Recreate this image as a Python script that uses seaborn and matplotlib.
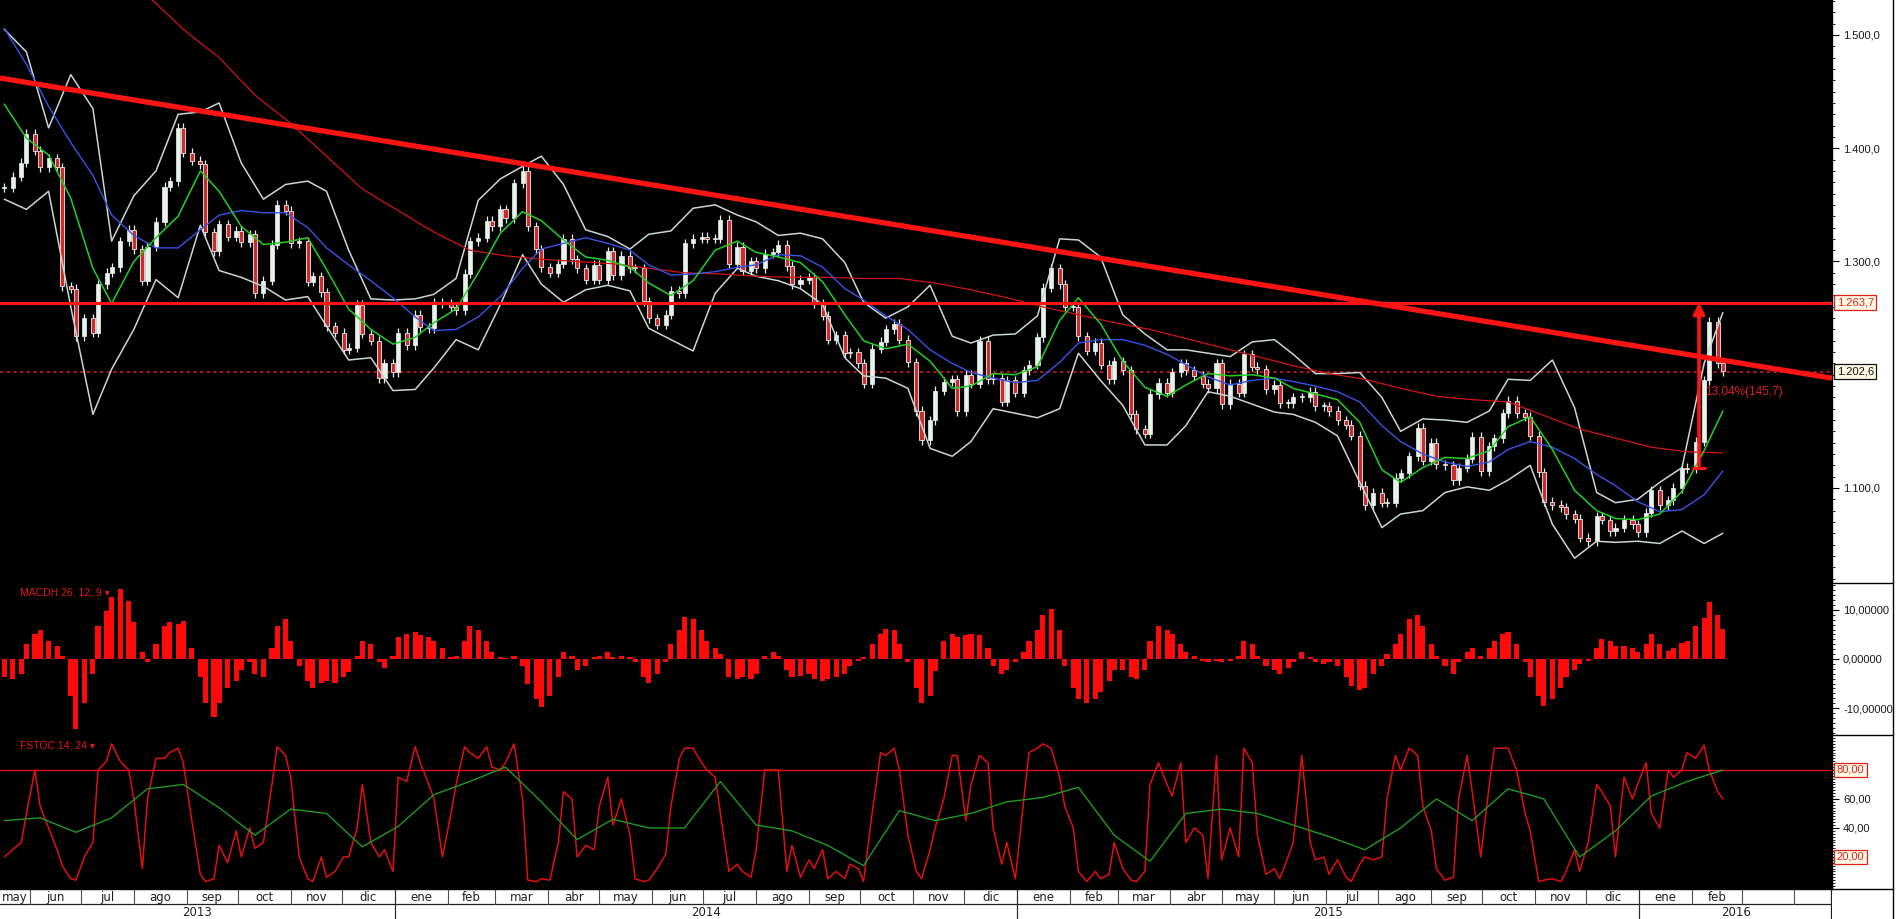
import numpy as np
import pandas as pd
import matplotlib
matplotlib.use("Agg")
import matplotlib.pyplot as plt
import matplotlib.dates as mdates
from matplotlib.lines import Line2D
import seaborn as sns

# ---------------- data ----------------
start_date = "2013-05-17"          # first bar, one bar every 3 business days
close = [
    1365, 1375, 1387, 1413, 1398, 1383, 1391, 1383, 1278, 1276,
    1234, 1250, 1237, 1280, 1290, 1295, 1318, 1328, 1311, 1283,
    1313, 1335, 1366, 1371, 1418, 1396, 1389, 1386, 1326, 1309,
    1333, 1322, 1327, 1317, 1324, 1272, 1283, 1315, 1350, 1345,
    1316, 1318, 1282, 1287, 1273, 1243, 1237, 1222, 1224, 1262,
    1236, 1230, 1197, 1210, 1202, 1237, 1226, 1253, 1242, 1241,
    1264, 1263, 1260, 1257, 1289, 1318, 1321, 1336, 1331, 1346,
    1338, 1369, 1380, 1331, 1311, 1295, 1290, 1298, 1320, 1302,
    1294, 1284, 1297, 1284, 1309, 1288, 1305, 1294, 1294, 1265,
    1250, 1244, 1253, 1274, 1272, 1316, 1320, 1322, 1320, 1320,
    1337, 1298, 1313, 1292, 1300, 1294, 1307, 1308, 1315, 1296,
    1280, 1284, 1286, 1263, 1252, 1231, 1235, 1219, 1220, 1210,
    1192, 1223, 1229, 1240, 1245, 1231, 1211, 1168, 1142, 1160,
    1186, 1194, 1196, 1168, 1200, 1192, 1230, 1196, 1197, 1176,
    1195, 1184, 1204, 1209, 1233, 1277, 1294, 1280, 1260, 1260,
    1234, 1221, 1228, 1209, 1196, 1212, 1204, 1165, 1152, 1148,
    1183, 1193, 1184, 1202, 1210, 1204, 1199, 1192, 1188, 1210,
    1174, 1192, 1184, 1218, 1207, 1205, 1187, 1191, 1175, 1175,
    1180, 1180, 1185, 1172, 1172, 1168, 1160, 1156, 1146, 1102,
    1085, 1096, 1087, 1087, 1109, 1113, 1128, 1153, 1124, 1140,
    1121, 1120, 1107, 1118, 1126, 1145, 1115, 1137, 1144, 1166,
    1177, 1166, 1163, 1146, 1114, 1088, 1085, 1083, 1077, 1073,
    1056, 1053, 1075, 1072, 1062, 1065, 1072, 1068, 1061, 1078,
    1098, 1085, 1089, 1100, 1118, 1117, 1141, 1195, 1247, 1210,
    1203,
]
macd_hist = [
    -3.7, -4.1, -3.0, 3.0, 5.2, 6.0, 3.7, 2.6, 0.7, -7.5,
    -14.2, -8.9, -3.0, 6.7, 9.7, 12.7, 14.2, 11.9, 7.5, 1.5,
    -0.7, 3.0, 6.7, 7.5, 7.1, 7.8, 2.2, -3.7, -8.9, -11.9,
    -8.9, -6.0, -4.5, -2.2, -0.7, -3.0, -3.7, 2.2, 6.7, 8.2,
    3.7, -1.5, -4.5, -6.0, -4.8, -4.5, -4.8, -3.7, -2.6, 0.7,
    3.7, 3.0, -0.7, -1.9, 0.7, 4.5, 5.2, 5.6, 4.8, 4.5,
    3.7, 2.2, 0.4, 0.7, 3.7, 6.7, 6.0, 3.7, 1.5, 0.4,
    0.2, 0.7, -1.5, -5.2, -8.2, -9.7, -7.5, -3.7, 1.5, 0.7,
    -2.2, -1.5, 0.4, 0.7, 1.5, 0.4, 0.7, 0.4, -0.7, -3.7,
    -4.8, -3.0, -0.7, 3.0, 6.0, 8.6, 8.2, 6.0, 3.7, 2.2,
    1.1, -3.7, -4.1, -3.7, -4.1, -3.0, 0.7, 1.5, 0.7, -2.2,
    -3.7, -3.4, -3.0, -4.1, -4.5, -4.1, -3.7, -3.0, -1.5, -0.4,
    0.4, 3.0, 5.2, 6.1, 6.0, 3.0, -0.7, -6.0, -8.9, -7.5,
    -2.5, 3.7, 5.2, 4.5, 4.8, 5.2, 4.8, 2.2, -1.5, -3.0,
    -2.2, -0.7, 1.5, 3.7, 6.0, 8.9, 10.2, 6.0, -1.5, -6.0,
    -8.2, -8.9, -8.2, -6.7, -4.5, -2.2, -2.2, -3.7, -4.1, -2.2,
    3.7, 6.7, 6.0, 5.2, 3.0, 1.5, 0.7, -0.4, -0.7, -0.4,
    -0.7, -0.4, 0.7, 3.7, 3.0, 0.7, -1.5, -2.2, -3.0, -1.9,
    -0.7, 1.5, 0.4, -0.7, -1.1, -0.7, -1.5, -3.7, -5.6, -6.3,
    -6.0, -3.0, -1.5, 1.1, 3.0, 5.2, 8.2, 8.9, 6.7, 3.0,
    0.7, -1.5, -3.0, -0.7, 1.5, 2.2, 0.7, 2.2, 3.7, 5.2,
    5.6, 3.0, -0.7, -3.7, -7.5, -9.5, -8.2, -6.0, -3.7, -2.2,
    -1.1, -0.4, 2.2, 4.0, 3.7, 2.6, 2.7, 2.2, 1.5, 3.0,
    5.2, 3.0, 1.7, 2.2, 3.3, 3.7, 6.7, 8.4, 11.7, 8.9,
    6.1,
]
stoch_k = [
    20, 25, 30, 50, 80, 55, 40, 25, 14, 5,
    4, 20, 30, 80, 86, 98, 86, 80, 60, 12,
    60, 88, 88, 92, 95, 85, 45, 8, 3, 5,
    28, 16, 38, 20, 40, 26, 30, 70, 96, 90,
    75, 20, 5, 3, 20, 6, 10, 20, 20, 40,
    70, 30, 20, 25, 10, 75, 72, 96, 85, 70,
    60, 20, 50, 70, 96, 92, 88, 96, 82, 80,
    85, 98, 60, 4, 3, 5, 4, 30, 65, 60,
    20, 28, 25, 55, 75, 42, 60, 35, 5, 3,
    4, 12, 22, 55, 88, 95, 95, 85, 80, 75,
    50, 10, 15, 10, 6, 25, 80, 80, 80, 10,
    28, 6, 18, 12, 25, 5, 10, 5, 15, 12,
    3, 50, 92, 90, 95, 80, 35, 10, 5, 25,
    40, 60, 90, 90, 45, 70, 90, 85, 40, 15,
    30, 5, 60, 92, 95, 98, 95, 75, 55, 40,
    10, 3, 10, 5, 8, 30, 12, 4, 3, 10,
    70, 85, 70, 62, 85, 30, 40, 35, 5, 90,
    18, 40, 20, 95, 85, 35, 8, 12, 5, 20,
    30, 90, 30, 18, 20, 8, 18, 6, 3, 15,
    20, 18, 20, 60, 90, 80, 95, 90, 55, 38,
    12, 4, 6, 60, 90, 65, 20, 70, 95, 95,
    95, 80, 50, 38, 3, 4, 5, 3, 10, 25,
    10, 30, 70, 65, 55, 20, 75, 60, 70, 85,
    50, 40, 80, 75, 80, 92, 88, 97, 80, 65,
    60,
]
# stochastic signal and 200-bar average, sampled on every 5th bar
stoch_d = [45, 47, 37, 47, 67, 70, 54, 35, 53, 50, 27, 41, 63, 72, 82, 58, 32,
           46, 40, 40, 72, 42, 38, 28, 14, 52, 45, 50, 58, 61, 68, 35, 17, 50,
           53, 50, 42, 34, 25, 40, 60, 45, 67, 60, 20, 38, 62, 72, 80]
ma_red = [1640, 1620, 1600, 1575, 1535, 1505, 1480, 1447, 1422, 1393, 1364,
          1345, 1326, 1310, 1305, 1302, 1300, 1298, 1294, 1290, 1289, 1287,
          1286, 1286, 1285, 1285, 1281, 1275, 1268, 1260, 1253, 1246, 1240,
          1232, 1224, 1216, 1208, 1201, 1196, 1188, 1181, 1178, 1176, 1164,
          1152, 1144, 1136, 1132, 1131]
# bands and short averages, sampled on every 3rd bar
bb_upper = [1505, 1485, 1418, 1465, 1435, 1318, 1358, 1380, 1430, 1432,
            1440, 1387, 1355, 1368, 1371, 1362, 1310, 1267, 1266, 1267,
            1271, 1285, 1354, 1373, 1384, 1393, 1368, 1328, 1322, 1311,
            1324, 1327, 1347, 1350, 1341, 1335, 1323, 1325, 1320, 1299,
            1264, 1250, 1260, 1279, 1234, 1228, 1235, 1236, 1252, 1320,
            1319, 1304, 1253, 1236, 1222, 1222, 1219, 1216, 1229, 1231,
            1218, 1201, 1201, 1202, 1180, 1150, 1161, 1160, 1158, 1168,
            1196, 1195, 1213, 1171, 1096, 1087, 1090, 1105, 1118, 1210,
            1255]
bb_lower = [1355, 1346, 1362, 1260, 1165, 1205, 1240, 1284, 1268, 1332,
            1292, 1286, 1278, 1266, 1269, 1243, 1213, 1215, 1186, 1187,
            1206, 1231, 1222, 1262, 1306, 1280, 1264, 1275, 1279, 1274,
            1241, 1231, 1221, 1272, 1294, 1287, 1283, 1276, 1262, 1215,
            1199, 1197, 1188, 1135, 1128, 1141, 1170, 1166, 1162, 1170,
            1219, 1195, 1173, 1138, 1138, 1155, 1185, 1181, 1174, 1167,
            1165, 1158, 1146, 1105, 1065, 1077, 1080, 1096, 1101, 1098,
            1107, 1120, 1068, 1038, 1053, 1052, 1053, 1051, 1062, 1051,
            1060]
ma_green = [1439, 1409, 1394, 1356, 1294, 1263, 1300, 1321, 1340, 1380,
            1362, 1331, 1315, 1317, 1321, 1293, 1258, 1240, 1227, 1233,
            1246, 1258, 1290, 1325, 1344, 1336, 1319, 1304, 1301, 1295,
            1281, 1270, 1283, 1310, 1318, 1308, 1304, 1299, 1282, 1253,
            1230, 1223, 1227, 1212, 1188, 1190, 1201, 1200, 1207, 1248,
            1268, 1245, 1212, 1189, 1181, 1191, 1201, 1199, 1200, 1197,
            1188, 1183, 1178, 1158, 1116, 1105, 1118, 1127, 1126, 1133,
            1154, 1163, 1134, 1098, 1080, 1073, 1072, 1077, 1097, 1133,
            1168]
ma_blue = [1506, 1474, 1437, 1405, 1376, 1341, 1323, 1312, 1312, 1328,
           1341, 1345, 1343, 1343, 1330, 1312, 1297, 1283, 1268, 1251,
           1239, 1240, 1251, 1269, 1294, 1311, 1316, 1321, 1316, 1310,
           1297, 1288, 1289, 1291, 1295, 1297, 1306, 1305, 1295, 1276,
           1266, 1252, 1240, 1222, 1210, 1202, 1197, 1193, 1195, 1211,
           1228, 1231, 1231, 1226, 1218, 1209, 1198, 1191, 1195, 1197,
           1194, 1190, 1185, 1176, 1155, 1141, 1130, 1123, 1119, 1123,
           1134, 1141, 1136, 1126, 1112, 1102, 1088, 1079, 1081, 1094,
           1115]
trend_dates = ["2013-05-14 12:00", "2016-04-23"]
trend_prices = [1462.0, 1197.0]
resistance = 1263.7
last_price = 1202.6
move_date = "2016-02-05"
move_low = 1118.0
move_label = "13,04%(145,7)"
stoch_level = 80
price_ticks = [1100, 1200, 1300, 1400, 1500]
price_labels = ["1.100,0", "", "1.300,0", "1.400,0", "1.500,0"]
macd_ticks = [-10, 0, 10]
macd_labels = ["-10,00000", "0,00000", "10,00000"]
stoch_ticks = [20, 40, 60, 80]
stoch_labels = ["", "40,00", "60,00", ""]
month_names = ["ene", "feb", "mar", "abr", "may", "jun",
               "jul", "ago", "sep", "oct", "nov", "dic"]
view_start, view_end = "2013-05-14 12:00", "2016-04-23"

# ---------------- figure ----------------
sns.set_theme(style="dark")
plt.rcParams["font.family"] = ["Liberation Sans", "DejaVu Sans"]
W, H = 1897, 919
fig = plt.figure(figsize=(W / 100, H / 100), dpi=100, facecolor="white")


def fax(x0, y0, x1, y1):
    return fig.add_axes([x0 / W, 1 - y1 / H, (x1 - x0) / W, (y1 - y0) / H])


ax_p = fax(0, 0, 1832, 583)
ax_m = fax(0, 583, 1832, 735)
ax_s = fax(0, 735, 1832, 889)
ax_d = fax(0, 889, 1832, 919)

n = len(close)
bdays = pd.bdate_range(start_date, periods=3 * n, freq="B")[::3]
xn = mdates.date2num(bdays.to_pydatetime())
xs5 = xn[::5]
xs3 = xn[::3]
X0 = mdates.date2num(pd.Timestamp(view_start).to_pydatetime())
X1 = mdates.date2num(pd.Timestamp(view_end).to_pydatetime())

for ax in (ax_p, ax_m, ax_s):
    ax.set_facecolor("black")
    ax.set_xlim(X0, X1)
    ax.grid(False)
    for s in ("top", "left", "bottom"):
        ax.spines[s].set_visible(False)
    ax.spines["right"].set_color("black")
    ax.spines["right"].set_linewidth(1.0)
    ax.yaxis.tick_right()
    ax.set_xticks([])
    ax.tick_params(axis="y", which="major", direction="out", length=5,
                   width=0.8, color="black", labelsize=8, labelcolor="#1a1a1a", pad=3,
                   right=True, left=False)
    ax.tick_params(axis="y", which="minor", direction="out", length=2.5,
                   width=0.6, color="black", right=True, left=False)

# ---- price panel ----
ax_p.set_ylim(1016.1, 1530.9)
c = np.array(close, dtype=float)
o = np.concatenate([[c[0]], c[:-1]])
lo = np.minimum(o, c)
hi = np.maximum(o, c)
up = c >= o
ax_p.vlines(xn, lo - 4, hi + 4, color="#e8eeee", lw=0.9, zorder=3)
body = np.maximum(hi - lo, 1.0)
ax_p.bar(xn[up], body[up], bottom=lo[up], width=2.4, color="#e6f3ea",
         edgecolor="#f2f2f2", linewidth=0.5, zorder=4)
ax_p.bar(xn[~up], body[~up], bottom=lo[~up], width=2.4, color="#cf2b2b",
         edgecolor="#eeeeee", linewidth=0.6, zorder=4)


def line(ax, x, y, color, lw, z=5):
    m = min(len(x), len(y))
    sns.lineplot(x=x[:m], y=y[:m], ax=ax, color=color, linewidth=lw, legend=False,
                 estimator=None, sort=False, zorder=z)


line(ax_p, xs3, bb_upper, "#c9d6d6", 1.1)
line(ax_p, xs3, bb_lower, "#c9d6d6", 1.1)
line(ax_p, xs5, ma_red, "#d01414", 0.9)
line(ax_p, xs3, ma_blue, "#3654e6", 1.0)
line(ax_p, xs3, ma_green, "#22d022", 1.1)

td = mdates.date2num([pd.Timestamp(d).to_pydatetime() for d in trend_dates])
ax_p.plot(td, trend_prices, color="#ff1414", lw=3.8, zorder=7, solid_capstyle="butt")
ax_p.axhline(resistance, color="#ff1414", lw=2.3, zorder=7)
ax_p.axhline(last_price, color="#c42020", lw=1.2, ls=(0, (2, 2)), zorder=2)

xa = mdates.date2num(pd.Timestamp(move_date).to_pydatetime())
ax_p.annotate("", xy=(xa, resistance), xytext=(xa, move_low),
              arrowprops=dict(arrowstyle="-|>", color="#ff1414", lw=2.6,
                              mutation_scale=16, shrinkA=0, shrinkB=0), zorder=8)
ax_p.plot([xa - 3.5, xa + 3.5], [move_low, move_low], color="#ff1414", lw=2.2, zorder=8)
ax_p.text(xa + 3.5, 1184.8, move_label, color="#e02020", fontsize=8.5,
          va="center", ha="left", zorder=9)

ax_p.set_yticks(price_ticks)
ax_p.set_yticklabels(price_labels)
ax_p.yaxis.set_minor_locator(matplotlib.ticker.MultipleLocator(10))


def box(ax, val, text, color, edge):
    ax.annotate(text, xy=(1, val), xycoords=("axes fraction", "data"),
                xytext=(3.5, 0), textcoords="offset points", ha="left", va="center",
                fontsize=8, color=color, annotation_clip=False, zorder=10,
                bbox=dict(boxstyle="square,pad=0.22", fc="#fffbe6", ec=edge, lw=0.9))


box(ax_p, resistance, "1.263,7", "#e02020", "#e02020")
box(ax_p, last_price, "1.202,6", "#111111", "#111111")

# ---- MACD panel ----
ax_m.set_ylim(-15.5, 15.5)
ax_m.bar(xn, macd_hist, width=3.0, color="#ff0a0a", edgecolor="none", zorder=3)
ax_m.set_yticks(macd_ticks)
ax_m.set_yticklabels(macd_labels)
ax_m.yaxis.set_minor_locator(matplotlib.ticker.MultipleLocator(1))
ax_m.text(0.011, 0.935, "MACDH 26; 12; 9 \u25be", transform=ax_m.transAxes,
          color="#e01818", fontsize=7.5, va="center", ha="left",
          family=["Liberation Sans", "DejaVu Sans"])

# ---- Stochastic panel ----
ax_s.set_ylim(-2.1, 104.1)
ax_s.axhline(stoch_level, color="#e01010", lw=1.0, zorder=2)
line(ax_s, xn, stoch_k, "#e01010", 1.1, z=4)
line(ax_s, xs5, stoch_d, "#1f9a1f", 1.0, z=5)
ax_s.set_yticks(stoch_ticks)
ax_s.set_yticklabels(stoch_labels)
ax_s.yaxis.set_minor_locator(matplotlib.ticker.MultipleLocator(2))
ax_s.text(0.011, 0.93, "FSTOC 14; 24 \u25be", transform=ax_s.transAxes,
          color="#e01818", fontsize=7.5, va="center", ha="left",
          family=["Liberation Sans", "DejaVu Sans"])
box(ax_s, 80, "80,00", "#e02020", "#e02020")
box(ax_s, 20, "20,00", "#e02020", "#e02020")

# ---- date band ----
ax_d.set_facecolor("white")
ax_d.set_xlim(X0, X1)
ax_d.set_ylim(0, 2)
ax_d.set_xticks([])
ax_d.set_yticks([])
for s in ("left", "right", "bottom"):
    ax_d.spines[s].set_visible(False)
ax_d.spines["top"].set_color("black")
ax_d.spines["top"].set_linewidth(1.0)
ax_d.axhline(1, color="#202020", lw=0.9)
ax_d.axvline(X1 - 0.5, color="#202020", lw=0.9)
months = pd.date_range("2013-05-01", "2016-06-01", freq="MS")
narrow = ["Liberation Sans Narrow", "DejaVu Sans"]
for a, b in zip(months[:-1], months[1:]):
    xa_ = mdates.date2num(a.to_pydatetime())
    xb_ = mdates.date2num(b.to_pydatetime())
    if X0 < xa_ < X1:
        if a.month == 1:
            ax_d.plot([xa_, xa_], [0, 2], color="#303030", lw=0.9)
        else:
            ax_d.plot([xa_, xa_], [1, 2], color="#505050", lw=0.8)
    ca, cb = max(xa_, X0), min(xb_, X1)
    if cb > ca and a <= pd.Timestamp("2016-02-01"):
        ax_d.text((ca + cb) / 2, 1.45, month_names[a.month - 1], ha="center",
                  va="center", fontsize=8.5, color="#202020", family=narrow)
for yr in (2013, 2014, 2015, 2016):
    ya = max(mdates.date2num(pd.Timestamp(f"{yr}-01-01").to_pydatetime()), X0)
    yb = min(mdates.date2num(pd.Timestamp(f"{yr + 1}-01-01").to_pydatetime()), X1)
    ax_d.text((ya + yb) / 2, 0.45, str(yr), ha="center", va="center",
              fontsize=8.5, color="#202020", family=narrow)


# ---- frame lines in the right label strip ----
def fline(x0, y0, x1, y1):
    fig.add_artist(Line2D([x0 / W, x1 / W], [1 - y0 / H, 1 - y1 / H],
                          color="black", lw=1.0))


fline(1832, 583, 1893, 583)
fline(1832, 735, 1893, 735)
fline(1832, 889, 1893, 889)
fline(1893, 0, 1893, 919)

fig.savefig("out.png", dpi=100, facecolor="white")
